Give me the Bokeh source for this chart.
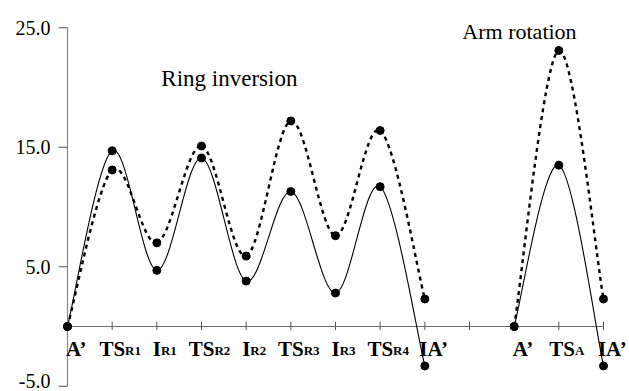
from bokeh.plotting import figure
from bokeh.models import Range1d, Label
from bokeh.core.properties import value
from bokeh.embed import file_html
from bokeh.resources import INLINE

# ---- data ----
x_ring = [0, 1, 2, 3, 4, 5, 6, 7, 8]
solid_ring = [0.0, 14.7, 4.7, 14.1, 3.8, 11.3, 2.8, 11.7, -3.3]
dashed_ring = [0.0, 13.1, 7.0, 15.1, 5.9, 17.2, 7.6, 16.4, 2.3]
x_arm = [10, 11, 12]
solid_arm = [0.0, 13.5, -3.3]
dashed_arm = [0.0, 23.1, 2.3]

cat_pos = [0, 1, 2, 3, 4, 5, 6, 7, 8, 10, 11, 12]
cat_main = ["A\u2019", "TS", "I", "TS", "I", "TS", "I", "TS", "IA\u2019", "A\u2019", "TS", "IA\u2019"]
cat_sub = ["", "R1", "R1", "R2", "R2", "R3", "R3", "R4", "", "", "A", ""]
x_tick_pos = [1, 2, 3, 4, 5, 6, 7, 8, 9, 10, 11, 12]

y_ticks = [-5, 5, 15, 25]
y_tick_labels = ["-5.0", "5.0", "15.0", "25.0"]

SERIF = "Liberation Serif"

W, H = 629, 391
p = figure(width=W, height=H, output_backend="svg", toolbar_location=None,
           x_axis_location=None, y_axis_location=None, min_border=0,
           x_range=Range1d(-1.5, 12.582), y_range=Range1d(-5.44, 27.28))
p.grid.visible = False
p.outline_line_color = None
p.background_fill_color = "white"
p.border_fill_color = "white"


def smooth(xs, ys):
    n = len(xs)
    x0, y0, x1, y1, cx0, cy0, cx1, cy1 = [], [], [], [], [], [], [], []
    for i in range(n - 1):
        pm = i - 1 if i > 0 else 0
        pp = i + 2 if i + 2 < n else n - 1
        x0.append(xs[i]); y0.append(ys[i])
        x1.append(xs[i + 1]); y1.append(ys[i + 1])
        cx0.append(xs[i] + (xs[i + 1] - xs[pm]) / 6.0)
        cy0.append(ys[i] + (ys[i + 1] - ys[pm]) / 6.0)
        cx1.append(xs[i + 1] - (xs[pp] - xs[i]) / 6.0)
        cy1.append(ys[i + 1] - (ys[pp] - ys[i]) / 6.0)
    return dict(x0=x0, y0=y0, x1=x1, y1=y1, cx0=cx0, cy0=cy0, cx1=cx1, cy1=cy1)


# axes (drawn at x=0 and y=0)
p.segment(x0=[0], y0=[y_ticks[0]], x1=[0], y1=[y_ticks[-1]], line_color="#8a8a8a", line_width=1.2)
p.segment(x0=[0], y0=[0], x1=[x_tick_pos[-1]], y1=[0], line_color="#6e6e6e", line_width=1.2)
# y ticks (outside, to the left)
p.segment(x0=[-0.2] * len(y_ticks), y0=y_ticks, x1=[0] * len(y_ticks), y1=y_ticks,
          line_color="#555555", line_width=1.2)
# x ticks (crossing)
p.segment(x0=x_tick_pos, y0=[-0.3] * len(x_tick_pos), x1=x_tick_pos, y1=[0.4] * len(x_tick_pos),
          line_color="#555555", line_width=1)

# y tick labels (the lowest one nudged up so it stays inside the picture)
p.text(x=[0] * (len(y_ticks) - 1), y=y_ticks[1:], text=y_tick_labels[1:], x_offset=-17,
       text_align="right", text_baseline="middle", text_font=value(SERIF),
       text_font_size="20px", text_color="black")
p.text(x=[0], y=y_ticks[:1], text=y_tick_labels[:1], x_offset=-17, y_offset=-5,
       text_align="right", text_baseline="middle", text_font=value(SERIF),
       text_font_size="20px", text_color="black")

# curves
for xs, ys in ((x_ring, solid_ring), (x_arm, solid_arm)):
    p.bezier(source=smooth(xs, ys), x0="x0", y0="y0", x1="x1", y1="y1",
             cx0="cx0", cy0="cy0", cx1="cx1", cy1="cy1", line_color="black", line_width=1.1)
for xs, ys in ((x_ring, dashed_ring), (x_arm, dashed_arm)):
    p.bezier(source=smooth(xs, ys), x0="x0", y0="y0", x1="x1", y1="y1",
             cx0="cx0", cy0="cy0", cx1="cx1", cy1="cy1", line_color="black", line_width=2.4,
             line_dash="4 4")

for xs, ys in ((x_ring, solid_ring), (x_arm, solid_arm), (x_ring, dashed_ring), (x_arm, dashed_arm)):
    p.scatter(xs, ys, size=8, marker="circle", fill_color="black", line_color="black")

# x category labels with subscripts
MAIN_FS, SUB_FS = 21, 13
cw = {"T": 0.667, "S": 0.556, "I": 0.389, "A": 0.722, "\u2019": 0.333, "R": 0.722,
      "1": 0.5, "2": 0.5, "3": 0.5, "4": 0.5}


def width(s, fs):
    return sum(cw.get(c, 0.5) for c in s) * fs


for xp, m, s in zip(cat_pos, cat_main, cat_sub):
    wm = width(m, MAIN_FS)
    ws = width(s, SUB_FS)
    off = 8 + (wm - ws) / 2.0
    p.text(x=[xp], y=[0], text=[m], x_offset=off, y_offset=23,
           text_align="right", text_baseline="alphabetic", text_font=value(SERIF),
           text_font_style="bold", text_font_size=f"{MAIN_FS}px", text_color="black")
    if s:
        p.text(x=[xp], y=[0], text=[s], x_offset=off, y_offset=24,
               text_align="left", text_baseline="alphabetic", text_font=value(SERIF),
               text_font_style="bold", text_font_size=f"{SUB_FS}px", text_color="black")

# titles
p.add_layout(Label(x=2.1, y=20.75, text="Ring inversion", text_font=SERIF,
                   text_font_size="23px", text_align="left", text_baseline="alphabetic",
                   text_color="black"))
p.add_layout(Label(x=8.84, y=24.7, text="Arm rotation", text_font=SERIF,
                   text_font_size="22px", text_align="left", text_baseline="alphabetic",
                   text_color="black"))

open("out.html", "w").write(file_html(p, INLINE))
